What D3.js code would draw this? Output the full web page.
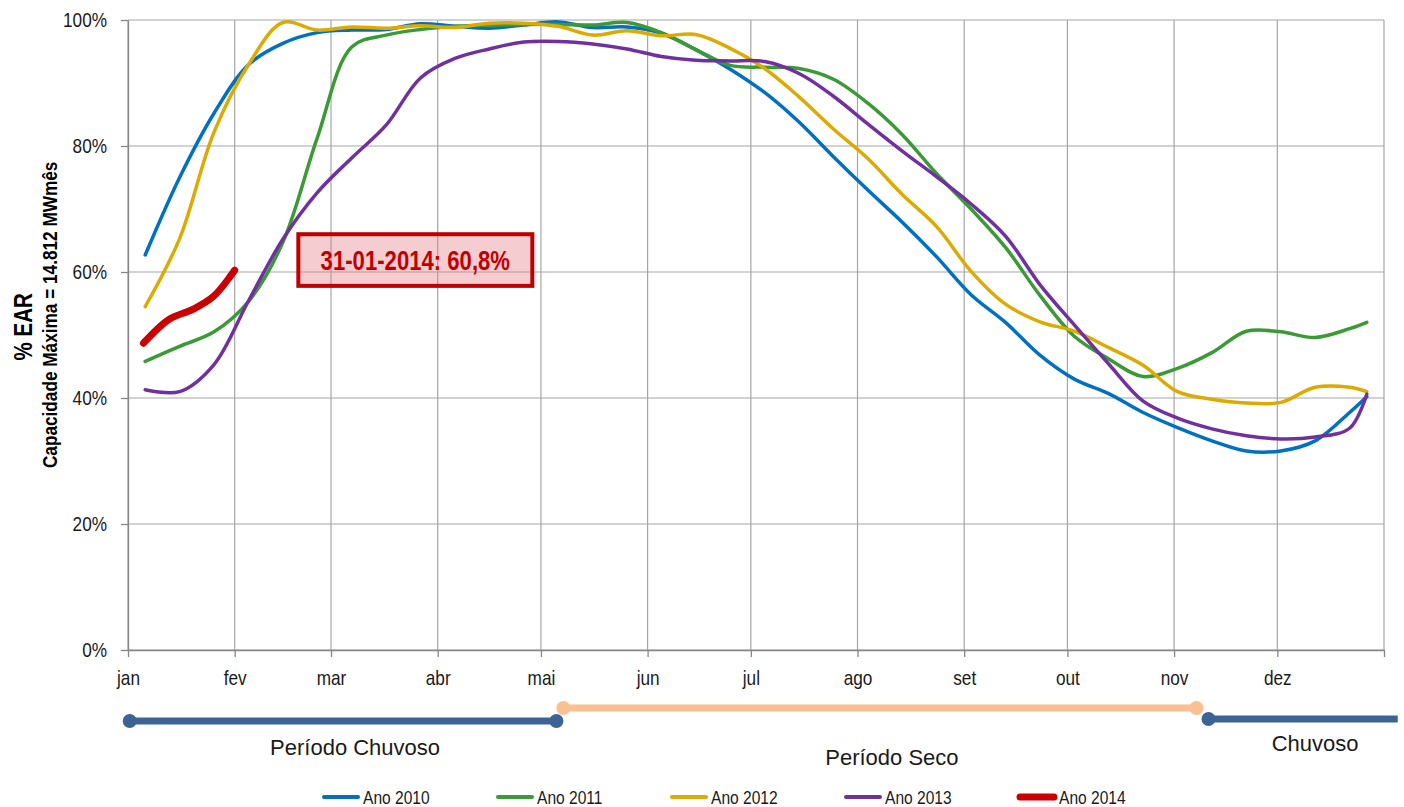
<!DOCTYPE html>
<html>
<head>
<meta charset="utf-8">
<script src="https://cdn.jsdelivr.net/npm/d3@7"></script>
<style>
  body { margin: 0; background: #fff; }
  svg { display: block; }
</style>
</head>
<body>
<script>
const w = 1404;
const h = 807;
const padding = { top: 20, right: 20, bottom: 157, left: 128 };

// month tick labels (pt-BR)
const monthLabels = ['jan', 'fev', 'mar', 'abr', 'mai', 'jun', 'jul', 'ago', 'set', 'out', 'nov', 'dez'];
const yTicks = [0, 20, 40, 60, 80, 100];

// day of year for the sampled points (every ~10 days)
const days = [5, 15, 25, 35, 45, 55, 65, 75, 85, 95, 105, 115, 125, 135, 145, 155, 165, 175, 185,
  195, 205, 215, 225, 235, 245, 255, 265, 275, 285, 295, 305, 315, 325, 335, 345, 355, 360];

const seriesNames = ['Ano 2010', 'Ano 2011', 'Ano 2012', 'Ano 2013', 'Ano 2014'];

// % EAR
const ano2010 = [62.7, 75.0, 85.2, 92.9, 96.3, 98.0, 98.4, 98.5, 99.4, 99.0, 98.7, 99.2, 99.7, 98.8, 98.9, 97.9, 95.3, 92.2, 88.5,
  83.8, 78.3, 73.0, 67.9, 62.4, 56.4, 52.0, 46.8, 43.0, 40.7, 37.7, 35.3, 33.2, 31.6, 31.6, 33.2, 37.7, 40.2];
const ano2011 = [45.8, 48.2, 50.5, 55.3, 64.7, 81.3, 95.7, 97.6, 98.5, 99.0, 99.2, 99.3, 99.3, 99.2, 99.6, 98.0, 95.3, 92.8, 92.5,
  92.3, 90.6, 86.8, 81.8, 75.6, 70.0, 63.9, 56.3, 49.8, 46.2, 43.4, 44.7, 47.2, 50.6, 50.5, 49.6, 51.0, 52.0];
const ano2012 = [54.5, 65.3, 82.2, 92.9, 99.6, 98.4, 98.9, 98.7, 99.1, 98.8, 99.5, 99.5, 99.0, 97.6, 98.3, 97.5, 97.7, 95.5, 92.3,
  87.8, 82.7, 78.0, 72.3, 67.2, 60.1, 54.9, 52.1, 50.6, 48.0, 45.2, 41.0, 39.8, 39.2, 39.3, 41.7, 41.7, 41.0];
const ano2013 = [41.3, 41.0, 45.3, 55.4, 65.2, 72.6, 78.1, 83.3, 90.8, 93.9, 95.4, 96.5, 96.6, 96.2, 95.4, 94.2, 93.6, 93.5, 93.4,
  91.5, 87.9, 83.5, 79.2, 75.1, 70.8, 65.7, 58.0, 51.6, 45.4, 39.5, 36.8, 35.1, 34.0, 33.5, 33.8, 35.2, 40.6];
const days2014 = [4.5, 12, 19, 25, 31];
const ano2014 = [48.7, 52.5, 54.1, 56.2, 60.3];

const annotationText = '31-01-2014: 60,8%';

// rainy / dry season bars under the chart (day of year)
const periodNames = ['Período Chuvoso', 'Período Seco', 'Chuvoso'];
const periodStart = [0.5, 126.5, 314];
const periodEnd = [124.5, 310.5, 369];

const colors = ['#0070C0', '#3A9A35', '#DCAA00', '#7030A0', '#CC0000'];
const periodColors = ['#3B6495', '#FAC090', '#3B6495'];

const base = new Date(2013, 0, 1);
const toDate = (d) => d3.timeHour.offset(base, Math.round(d * 24));

const xScale = d3.scaleTime().domain([base, new Date(2014, 0, 1)]).range([padding.left, w - padding.right]);
const yScale = d3.scaleLinear().domain([0, 100]).range([h - padding.bottom, padding.top]);

const svg = d3.select('body').append('svg')
  .attr('width', w)
  .attr('height', h);

// check for a narrow font, otherwise squeeze Liberation Sans
const probe = svg.append('text').text('Período Chuvoso 2010').style('font-size', '20px');
const wideW = probe.style('font-family', '"Liberation Sans"').node().getComputedTextLength();
const narrowW = probe.style('font-family', '"Liberation Sans Narrow", "Liberation Sans"').node().getComputedTextLength();
probe.remove();
const hasNarrow = narrowW < wideW * 0.92;
const squeeze = hasNarrow ? 1 : 0.82;
const narrowFamily = hasNarrow ? '"Liberation Sans Narrow", sans-serif' : '"Liberation Sans", Arial, sans-serif';
svg.style('font-family', narrowFamily);

const monthTicks = d3.timeMonth.range(base, new Date(2014, 0, 2));

// grid
svg.append('g').selectAll('line.v')
  .data(monthTicks)
  .enter().append('line')
  .attr('x1', d => xScale(d)).attr('x2', d => xScale(d))
  .attr('y1', yScale(0)).attr('y2', yScale(100))
  .attr('stroke', '#A6A6A6').attr('stroke-width', 1.2);

svg.append('g').selectAll('line.h')
  .data(yTicks)
  .enter().append('line')
  .attr('x1', xScale.range()[0]).attr('x2', xScale.range()[1])
  .attr('y1', d => yScale(d)).attr('y2', d => yScale(d))
  .attr('stroke', '#A6A6A6').attr('stroke-width', 1.2);

// axes
const xAxis = d3.axisBottom(xScale)
  .tickValues(monthTicks)
  .tickFormat((d, i) => monthLabels[i] || '')
  .tickSize(7).tickSizeOuter(0).tickPadding(13);
const yAxis = d3.axisLeft(yScale)
  .tickValues(yTicks)
  .tickFormat(d => d + '%')
  .tickSize(7).tickSizeOuter(0).tickPadding(14);

const gx = svg.append('g')
  .attr('transform', `translate(0,${yScale(0)})`)
  .call(xAxis);
const gy = svg.append('g')
  .attr('transform', `translate(${padding.left},0)`)
  .call(yAxis);

[gx, gy].forEach(g => {
  g.attr('font-family', null);
  g.select('.domain').attr('stroke', '#868686').attr('stroke-width', 1.3);
  g.selectAll('.tick line').attr('stroke', '#868686').attr('stroke-width', 1.3);
  g.selectAll('.tick text').attr('fill', '#1a1a1a').style('font-size', '21px');
});

// lines
const line = d3.line()
  .x(d => xScale(toDate(d[0])))
  .y(d => yScale(d[1]))
  .curve(d3.curveCatmullRom.alpha(0.5));

const series = [ano2010, ano2011, ano2012, ano2013].map(vals => days.map((d, i) => [d, vals[i]]));
series.push(days2014.map((d, i) => [d, ano2014[i]]));

svg.append('g').selectAll('path')
  .data(series)
  .enter().append('path')
  .attr('d', line)
  .attr('fill', 'none')
  .attr('stroke', (d, i) => colors[i])
  .attr('stroke-width', (d, i) => i === 4 ? 7 : 3.5)
  .attr('stroke-linecap', 'round')
  .attr('stroke-linejoin', 'round');

// annotation box
const ann = svg.append('g');
ann.append('rect')
  .attr('x', xScale(toDate(49.5)))
  .attr('y', yScale(66))
  .attr('width', xScale(toDate(117.5)) - xScale(toDate(49.5)))
  .attr('height', yScale(57.8) - yScale(66))
  .attr('fill', 'rgba(230, 120, 130, 0.38)')
  .attr('stroke', '#C00000')
  .attr('stroke-width', 4);
ann.append('text')
  .attr('x', (xScale(toDate(49.5)) + xScale(toDate(117.5))) / 2)
  .attr('y', yScale(60.3))
  .attr('text-anchor', 'middle')
  .attr('fill', '#C00000')
  .style('font-weight', 'bold')
  .style('font-size', '27px')
  .text(annotationText);

// y axis titles
svg.append('text')
  .attr('transform', `translate(32, ${yScale(51.3)}) rotate(-90)`)
  .attr('text-anchor', 'middle')
  .style('font-weight', 'bold')
  .style('font-size', '25px')
  .text('% EAR');
svg.append('text')
  .attr('transform', `translate(57, ${yScale(53.2)}) rotate(-90)`)
  .attr('text-anchor', 'middle')
  .style('font-weight', 'bold')
  .style('font-size', '21px')
  .text('Capacidade Máxima = 14.812 MWmês');

// season bars
const barY = [721, 708, 719];
const labelY = [755, 765, 751];
const periods = svg.append('g');
periodNames.forEach((name, i) => {
  const x0 = xScale(toDate(periodStart[i]));
  const x1 = xScale(toDate(periodEnd[i]));
  periods.append('line')
    .attr('x1', x0).attr('x2', x1)
    .attr('y1', barY[i]).attr('y2', barY[i])
    .attr('stroke', periodColors[i]).attr('stroke-width', 7);
  periods.append('circle')
    .attr('cx', x0).attr('cy', barY[i]).attr('r', 7)
    .attr('fill', periodColors[i]);
  if (periodEnd[i] <= 365) {
    periods.append('circle')
      .attr('cx', x1).attr('cy', barY[i]).attr('r', 7)
      .attr('fill', periodColors[i]);
  }
  // these labels use the regular (not narrow) face
  periods.append('text')
    .attr('class', 'wide')
    .attr('x', (x0 + Math.min(x1, w)) / 2 + 12)
    .attr('y', labelY[i])
    .attr('text-anchor', 'middle')
    .attr('fill', '#1a1a1a')
    .style('font-family', '"Liberation Sans", Arial, sans-serif')
    .style('font-size', '22px')
    .text(name);
});

// legend
const legend = svg.append('g').attr('transform', 'translate(322, 797)');
seriesNames.forEach((name, i) => {
  const g = legend.append('g').attr('transform', `translate(${i * 174}, 0)`);
  g.append('line')
    .attr('x1', 2).attr('x2', 36)
    .attr('stroke', colors[i])
    .attr('stroke-width', i === 4 ? 7 : 4)
    .attr('stroke-linecap', 'round');
  g.append('text')
    .attr('x', 41)
    .attr('y', 7)
    .attr('fill', '#1a1a1a')
    .style('font-size', '19px')
    .text(name);
});

// condensed look: squeeze glyphs horizontally, keeping anchors in place
if (squeeze !== 1) {
  svg.selectAll('text:not(.wide)').each(function () {
    const t = d3.select(this);
    const x = +t.attr('x') || 0;
    t.attr('x', x / squeeze);
    t.attr('transform', (t.attr('transform') || '') + ` scale(${squeeze},1)`);
  });
}
</script>
</body>
</html>
